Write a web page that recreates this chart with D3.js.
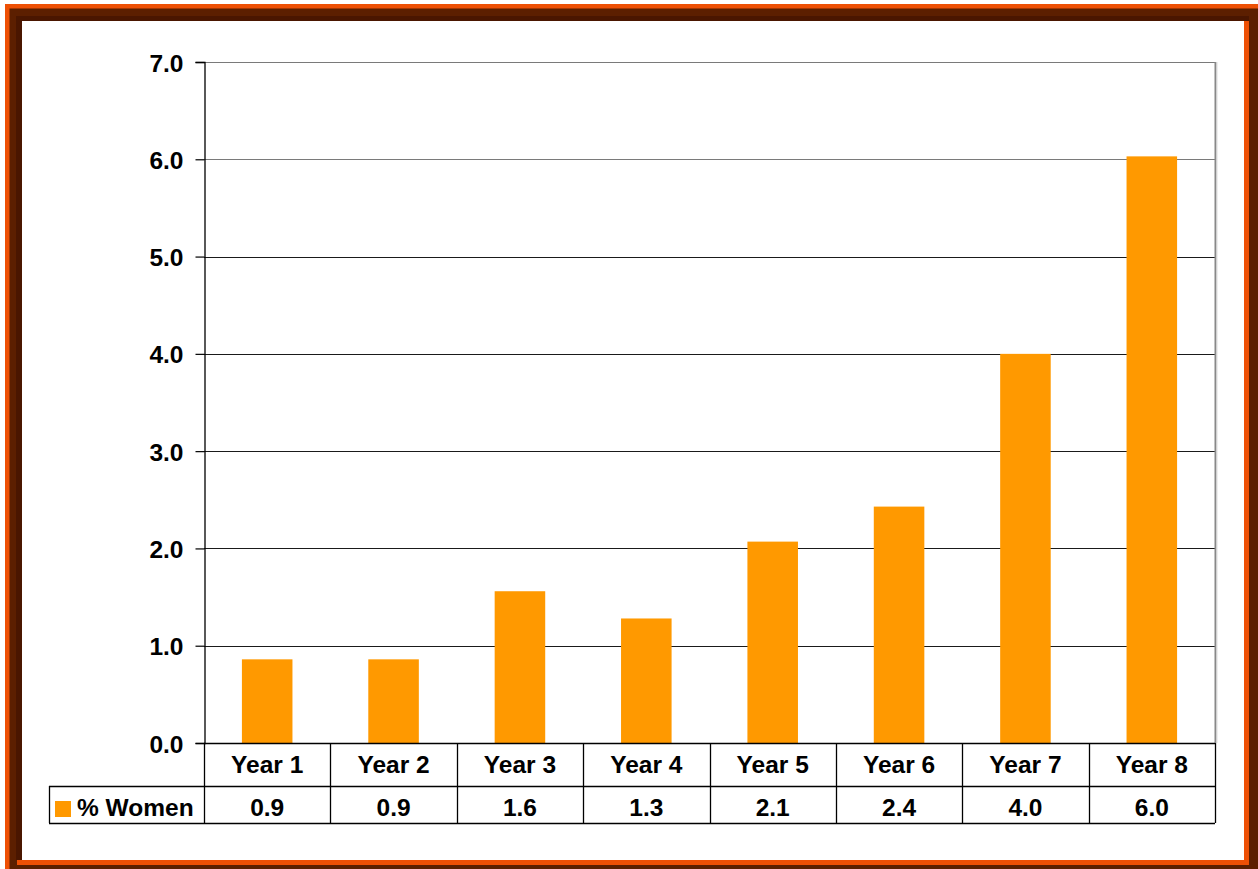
<!DOCTYPE html>
<html>
<head>
<meta charset="utf-8">
<script src="https://cdn.jsdelivr.net/npm/d3@7"></script>
<style>
  html, body { margin: 0; padding: 0; background: #ffffff; }
  svg { display: block; }
  text { font-family: Arial, "Liberation Sans", sans-serif; font-weight: bold; fill: #000; }
</style>
</head>
<body>
<svg id="chart" width="1258" height="869"></svg>
<script>
// Share of women, by year
const categories = ["Year 1", "Year 2", "Year 3", "Year 4", "Year 5", "Year 6", "Year 7", "Year 8"];
const womenPct = [0.86, 0.86, 1.56, 1.28, 2.07, 2.43, 4.0, 6.03];
const seriesName = "% Women";
const yTicks = [0, 1, 2, 3, 4, 5, 6, 7];

const svg = d3.select("#chart");
const W = 1258, H = 869;
const FONT_SIZE = 24.5;

// ---- decorative frame ----
const frame = svg.append("g");
frame.append("rect").attr("x", 5).attr("y", 4).attr("width", W - 5).attr("height", H - 4).attr("fill", "#5c1f00");
frame.append("rect").attr("x", 5).attr("y", 4).attr("width", W - 5).attr("height", 4.5).attr("fill", "#ee5005");
frame.append("rect").attr("x", 5).attr("y", 4).attr("width", 4.5).attr("height", H - 4).attr("fill", "#ee5005");
frame.append("rect").attr("x", 16).attr("y", 16).attr("width", 1249 - 16).attr("height", 5).attr("fill", "#4a1600");
frame.append("rect").attr("x", 16).attr("y", 16).attr("width", 6).attr("height", 860 - 16).attr("fill", "#4a1600");
frame.append("rect").attr("x", 1244).attr("y", 21).attr("width", 5).attr("height", 865 - 21).attr("fill", "#ee5005");
frame.append("rect").attr("x", 17).attr("y", 860).attr("width", 1249 - 17).attr("height", 5).attr("fill", "#ee5005");
frame.append("rect").attr("x", 22).attr("y", 21).attr("width", 1244 - 22).attr("height", 860 - 21).attr("fill", "#ffffff");

// ---- plot geometry ----
const plotLeft = 204, plotRight = 1215, plotTop = 62, plotBottom = 743;
const rowSplit = 786, tableBottom = 823, legendLeft = 49;

const y = d3.scaleLinear().domain([0, 7]).range([plotBottom, plotTop]);
const x = d3.scaleBand().domain(categories).range([plotLeft, plotRight])
  .paddingInner(0.6).paddingOuter(0.3);
const col = d3.scaleBand().domain(categories).range([plotLeft, plotRight]).padding(0);

// gridlines
svg.append("g")
  .selectAll("line")
  .data(yTicks.filter(t => t > 0))
  .join("line")
  .attr("x1", plotLeft).attr("x2", plotRight)
  .attr("y1", d => Math.round(y(d)) + 0.5).attr("y2", d => Math.round(y(d)) + 0.5)
  .attr("stroke", d => d >= 6 ? "#7a7a7a" : "#1a1a1a")
  .attr("stroke-width", 1.2);

// right edge of plot area
svg.append("line")
  .attr("x1", plotRight + 0.5).attr("x2", plotRight + 0.5)
  .attr("y1", plotTop).attr("y2", plotBottom)
  .attr("stroke", "#888").attr("stroke-width", 2);
svg.append("line")
  .attr("x1", plotRight + 2).attr("x2", plotRight + 2)
  .attr("y1", plotTop).attr("y2", plotBottom)
  .attr("stroke", "#ddd").attr("stroke-width", 1);

// bars
svg.append("g")
  .selectAll("rect")
  .data(categories.map((c, i) => ({ c, v: womenPct[i] })))
  .join("rect")
  .attr("x", d => x(d.c))
  .attr("width", x.bandwidth())
  .attr("y", d => y(d.v))
  .attr("height", d => y(0) - y(d.v))
  .attr("fill", "#ff9900");

// y axis
const yAxis = d3.axisLeft(y).tickValues(yTicks).tickFormat(d3.format(".1f")).tickSize(9).tickPadding(12);
const gy = svg.append("g").attr("transform", `translate(${plotLeft + 0.5},0)`).call(yAxis);
gy.select(".domain").attr("stroke", "#000").attr("stroke-width", 1.3);
gy.selectAll(".tick line").attr("stroke", "#000").attr("stroke-width", 1.2);
gy.selectAll(".tick text")
  .attr("font-size", FONT_SIZE).attr("font-weight", "bold")
  .attr("font-family", "Arial, 'Liberation Sans', sans-serif")
  .attr("fill", "#000").attr("dy", "0.37em");

// ---- data table ----
const table = svg.append("g");
const lineStyle = sel => sel.attr("stroke", "#000").attr("stroke-width", 1.3);

// horizontal rules
table.append("line").attr("x1", plotLeft).attr("x2", plotRight).attr("y1", plotBottom + 0.5).attr("y2", plotBottom + 0.5).call(lineStyle);
table.append("line").attr("x1", legendLeft).attr("x2", plotRight).attr("y1", rowSplit + 0.5).attr("y2", rowSplit + 0.5).call(lineStyle);
table.append("line").attr("x1", legendLeft).attr("x2", plotRight).attr("y1", tableBottom + 0.5).attr("y2", tableBottom + 0.5).call(lineStyle);
table.append("line").attr("x1", legendLeft + 0.5).attr("x2", legendLeft + 0.5).attr("y1", rowSplit).attr("y2", tableBottom).call(lineStyle);

// vertical rules at each column boundary
const bounds = categories.map(c => col(c)).concat([plotRight]);
table.selectAll("line.col")
  .data(bounds)
  .join("line")
  .attr("class", "col")
  .attr("x1", d => Math.round(d) + 0.5).attr("x2", d => Math.round(d) + 0.5)
  .attr("y1", plotBottom).attr("y2", tableBottom)
  .call(lineStyle);

// category labels
table.selectAll("text.cat")
  .data(categories)
  .join("text")
  .attr("class", "cat")
  .attr("x", d => col(d) + col.bandwidth() / 2)
  .attr("y", 773)
  .attr("text-anchor", "middle")
  .attr("font-size", FONT_SIZE)
  .text(d => d);

// value labels
table.selectAll("text.val")
  .data(categories.map((c, i) => ({ c, v: womenPct[i] })))
  .join("text")
  .attr("class", "val")
  .attr("x", d => col(d.c) + col.bandwidth() / 2)
  .attr("y", 815.5)
  .attr("text-anchor", "middle")
  .attr("font-size", FONT_SIZE)
  .text(d => d3.format(".1f")(d.v));

// legend key
table.append("rect").attr("x", 55).attr("y", 801).attr("width", 16).attr("height", 16).attr("fill", "#ff9900");
table.append("text").attr("x", 77).attr("y", 815.5).attr("font-size", FONT_SIZE).text(seriesName);
</script>
</body>
</html>
